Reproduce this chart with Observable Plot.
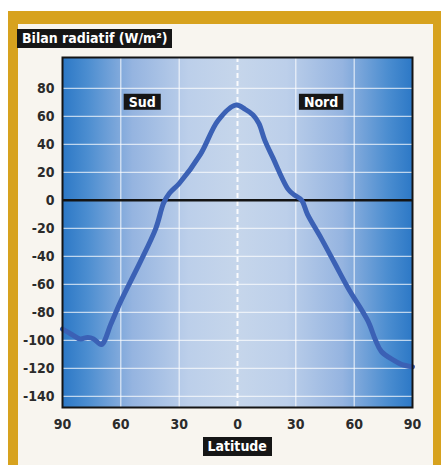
<!DOCTYPE html>
<html><head><meta charset="utf-8">
<script src="https://cdn.jsdelivr.net/npm/d3@7"></script>
<script src="https://cdn.jsdelivr.net/npm/@observablehq/plot@0.6"></script>
<style>
html,body{margin:0;padding:0;background:#fff;}
#page{position:relative;width:441px;height:465px;overflow:hidden;background:#fff;}
#gold{position:absolute;left:8px;top:11px;width:433px;height:454px;background:#d7a21e;}
#cream{position:absolute;left:18px;top:24px;width:415px;height:441px;background:#f8f5ef;}
#chart{position:absolute;left:0;top:0;}
.tag{position:absolute;background:#161616;color:#fff;font-family:"DejaVu Sans Condensed","DejaVu Sans",sans-serif;font-weight:bold;font-size:14px;line-height:19px;height:19px;padding:0 5px;white-space:nowrap;}
</style></head>
<body>
<div id="page">
  <div id="gold"></div>
  <div id="cream"></div>
  <div id="chart"></div>
  <div id="title" class="tag" style="left:17px;top:29px;">Bilan radiatif (W/m²)</div>
  <div id="xlabel" class="tag">Latitude</div>
</div>
<script>
// Latitude (negative = Sud, positive = Nord)
const latitudes = [-90,-85,-81,-77,-74,-70,-65,-60,-50,-42,-38,-35,-30,-19,-10,-1,4,8,11,14,18,26,29,33,36,43,50,57,67,71,74,80,84,90];
const bilan     = [-92,-96,-99,-98,-99,-103,-88,-72,-44,-20,-2,5,12,33,57,68,65,61,55,43,31,8,4,0,-10,-27,-45,-63,-86,-100,-108,-114,-117,-119];
const xTicks = [-90,-60,-30,0,30,60,90];
const yTicks = [-140,-120,-100,-80,-60,-40,-20,0,20,40,60,80];
const xGrid = [-60,-30,30,60];
const hemiLabels = ["Sud","Nord"];
const hemiLat = [-49,43];
const hemiVal = [70,70];

const data = latitudes.map((d,i)=>({lat:d, val:bilan[i]}));
const labels = hemiLabels.map((t,i)=>({text:t, lat:hemiLat[i], val:hemiVal[i]}));
const ns = "http://www.w3.org/2000/svg";

const defsMark = () => {
  const defs = document.createElementNS(ns,"defs");
  defs.innerHTML = `<linearGradient id="bg" x1="0" x2="1" y1="0" y2="0">
    <stop offset="0" stop-color="#2c78c6"/>
    <stop offset="0.07" stop-color="#4b8dd0"/>
    <stop offset="0.2" stop-color="#95b4e0"/>
    <stop offset="0.36" stop-color="#bccfea"/>
    <stop offset="0.5" stop-color="#c6d6eb"/>
    <stop offset="0.64" stop-color="#bccfea"/>
    <stop offset="0.8" stop-color="#95b4e0"/>
    <stop offset="0.93" stop-color="#4b8dd0"/>
    <stop offset="1" stop-color="#2c78c6"/>
  </linearGradient>`;
  return defs;
};

const chart = Plot.plot({
  width: 441, height: 465,
  marginLeft: 62, marginRight: 29, marginTop: 57, marginBottom: 58,
  style: {background:"transparent", fontFamily:'"DejaVu Sans Condensed","DejaVu Sans",sans-serif', fontSize:"14px", fontWeight:"bold", color:"#2b2b2b"},
  x: {domain:[-90,90], ticks:xTicks, tickFormat:d=>String(Math.abs(d)), tickSize:0, tickPadding:12, label:null},
  y: {domain:[-148,102], ticks:yTicks, tickFormat:d=>String(d), tickSize:0, tickPadding:8, label:null},
  marks: [
    defsMark,
    Plot.frame({fill:"url(#bg)"}),
    Plot.gridY(yTicks, {stroke:"#ffffff", strokeOpacity:0.85, strokeWidth:1}),
    Plot.gridX(xGrid, {stroke:"#ffffff", strokeOpacity:0.9, strokeWidth:1}),
    Plot.ruleX([0], {stroke:"#ffffff", strokeWidth:2, strokeDasharray:"5,3", strokeOpacity:0.9}),
    Plot.ruleY([0], {stroke:"#141414", strokeWidth:2.5}),
    Plot.line(data, {x:"lat", y:"val", stroke:"#3b61b5", strokeWidth:5, curve:"catmull-rom", strokeLinejoin:"round", strokeLinecap:"round"}),
    Plot.frame({stroke:"#141414", strokeWidth:2}),
    Plot.text(labels, {x:"lat", y:"val", text:"text", fill:"#ffffff", fontSize:14, fontWeight:"bold", className:"boxlbl"})
  ]
});
document.getElementById("chart").appendChild(chart);

// black boxes behind hemisphere labels
chart.querySelectorAll("g.boxlbl text").forEach(t => {
  const b = t.getBBox();
  const r = document.createElementNS(ns,"rect");
  r.setAttribute("x", b.x-5); r.setAttribute("y", b.y);
  r.setAttribute("width", b.width+10); r.setAttribute("height", b.height);
  r.setAttribute("fill", "#161616");
  if (t.getAttribute("transform")) r.setAttribute("transform", t.getAttribute("transform"));
  t.parentNode.insertBefore(r, t);
});

// place axis-title tag under the x axis, centred on 0
const xl = document.getElementById("xlabel");
const cx = chart.scale("x").apply(0);
xl.style.top = "437px";
xl.style.left = (cx - xl.offsetWidth/2) + "px";
</script>
</body></html>
